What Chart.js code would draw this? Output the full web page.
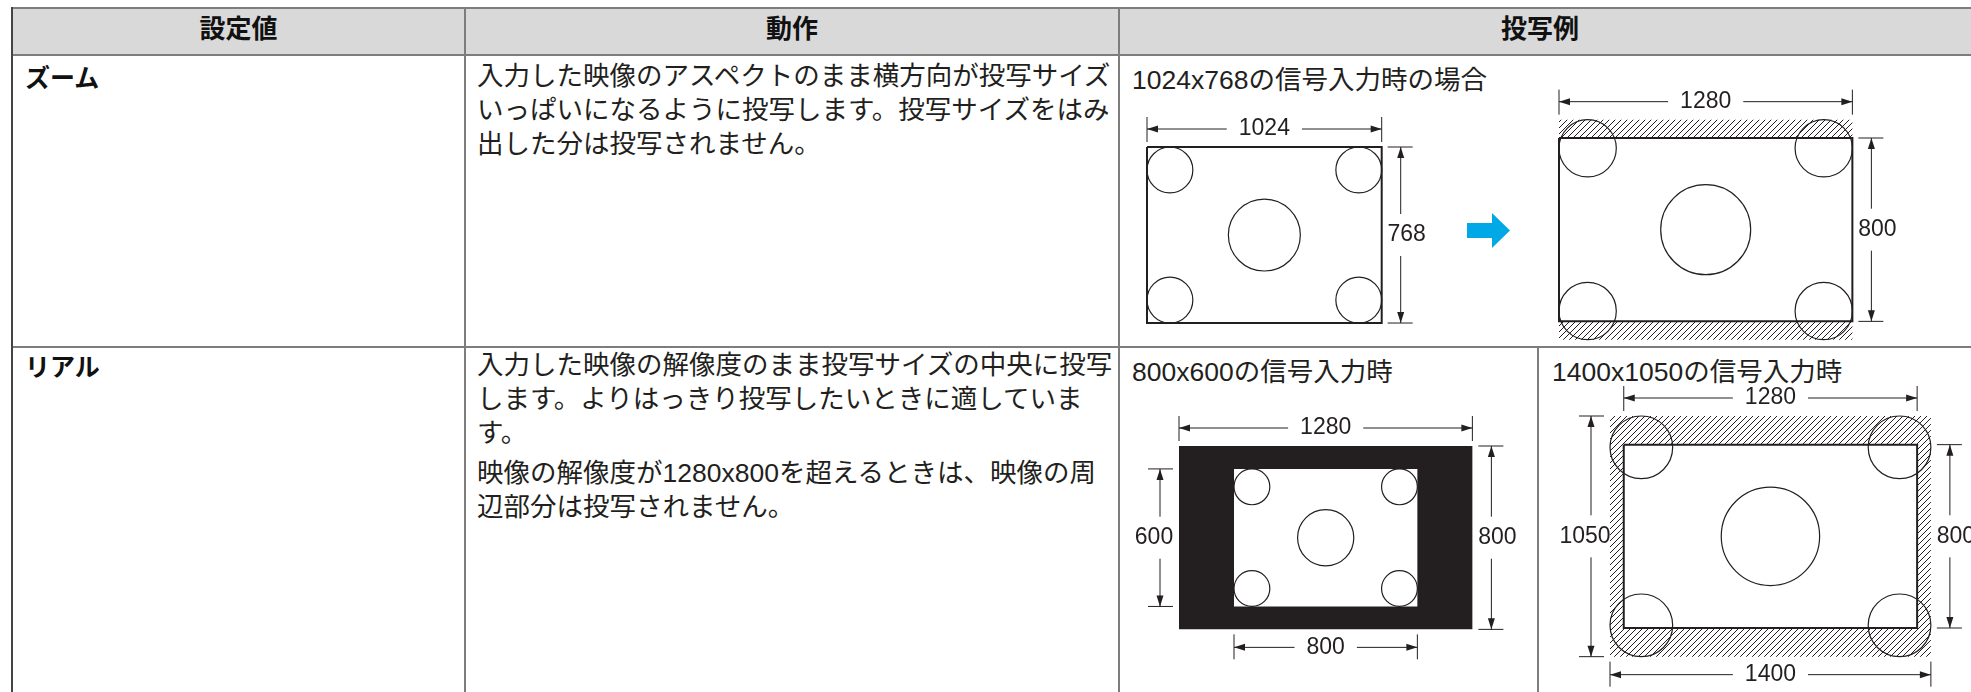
<!DOCTYPE html>
<html lang="ja">
<head>
<meta charset="utf-8">
<script src="https://cdn.jsdelivr.net/npm/chart.js@4.4.1/dist/chart.umd.min.js"></script>
<style>
  body { margin: 0; width: 1971px; height: 692px; overflow: hidden; position: relative; background: #fff;
         font-family: "Liberation Sans", "Noto Sans CJK JP", sans-serif; color: #231f20; }
  .ln { position: absolute; background: #7d7d7d; }
  .hd { position: absolute; top: 8px; height: 47px; line-height: 45px; text-align: center;
        font: 700 26px "Noto Sans CJK JP", sans-serif; color: #111; }
  .key { position: absolute; left: 25px; font: 700 25px "Noto Sans CJK JP", sans-serif; line-height: 34px; color: #111; }
  .txt { position: absolute; left: 477px; font-size: 26.5px; line-height: 34px; white-space: nowrap; }
  .txt p { margin: 0; }
  .txt p + p { margin-top: 6px; }
  .ttl { position: absolute; font-size: 26.5px; line-height: 34px; white-space: nowrap; }
  canvas { position: absolute; }
  #go { position: absolute; left: 1467px; top: 213px; width: 43px; height: 35px; background: #00a8e6;
        clip-path: polygon(0 10px, 25px 10px, 25px 0, 43px 17.5px, 25px 35px, 25px 25px, 0 25px); }
</style>
</head>
<body>
<div class="ln" style="left:12px;top:8px;width:1959px;height:47px;background:#d9d9d9"></div>
<div class="ln" style="left:11px;top:7px;width:1960px;height:2px"></div>
<div class="ln" style="left:11px;top:54px;width:1960px;height:2px"></div>
<div class="ln" style="left:11px;top:346px;width:1960px;height:2px"></div>
<div class="ln" style="left:11px;top:7px;width:1.5px;height:685px;background:#444"></div>
<div class="ln" style="left:464px;top:7px;width:2px;height:685px"></div>
<div class="ln" style="left:1118px;top:7px;width:2px;height:685px"></div>
<div class="ln" style="left:1537px;top:347px;width:2px;height:345px"></div>

<div class="hd" style="left:12px;width:453px">設定値</div>
<div class="hd" style="left:465px;width:654px">動作</div>
<div class="hd" style="left:1119px;width:842px">投写例</div>

<div class="key" style="top:59px">ズーム</div>
<div class="txt" style="top:59px"><p>入力した映像のアスペクトのまま横方向が投写サイズ<br>いっぱいになるように投写します。投写サイズをはみ<br>出した分は投写されません。</p></div>
<div class="ttl" style="left:1132px;top:63px">1024x768の信号入力時の場合</div>

<div class="key" style="top:348px">リアル</div>
<div class="txt" style="top:348px"><p>入力した映像の解像度のまま投写サイズの中央に投写<br>します。よりはっきり投写したいときに適していま<br>す。</p><p>映像の解像度が1280x800を超えるときは、映像の周<br>辺部分は投写されません。</p></div>
<div class="ttl" style="left:1132px;top:355px">800x600の信号入力時</div>
<div class="ttl" style="left:1552px;top:355px">1400x1050の信号入力時</div>

<canvas id="zoomIn"></canvas>
<div id="go"></div>
<canvas id="zoomOut"></canvas>
<canvas id="realSmall"></canvas>
<canvas id="realLarge"></canvas>

<script>
// sizes in signal pixels
const panelSize = [1280, 800];
const zoomInput = [1024, 768];
const realSmall = [800, 600];
const realLarge = [1400, 1050];

// test picture (circles) drawn in a 1024x768 frame
const patternSize = [1024, 768];
const circleX = [100, 924, 512, 100, 924];
const circleY = [100, 100, 384, 668, 668];
const circleR = [100, 100, 157, 100, 100];

const ink = '#231f20';
const PX = 0.2292; // screen px per signal pixel

function hatch() {
  const c = document.createElement('canvas');
  c.width = c.height = 6;
  const g = c.getContext('2d');
  g.strokeStyle = ink;
  g.lineWidth = 1;
  g.beginPath();
  g.moveTo(0, 6); g.lineTo(6, 0);
  g.moveTo(-1, 1); g.lineTo(1, -1);
  g.moveTo(5, 7); g.lineTo(7, 5);
  g.stroke();
  return g.createPattern(c, 'repeat');
}

function rect(x, y, w, h, fillColor, border, order) {
  return {
    data: [{x: x, y: y}, {x: x + w, y: y}, {x: x + w, y: y + h}, {x: x, y: y + h}, {x: x, y: y}],
    showLine: true, fill: 'shape', backgroundColor: fillColor,
    borderColor: border ? ink : 'rgba(0,0,0,0)', borderWidth: border || 1,
    borderJoinStyle: 'miter', pointRadius: 0, order: order
  };
}

// circles of the test picture, scaled to an image of width w placed at (ox, oy)
function circles(w, ox, oy) {
  const k = w / patternSize[0];
  return {
    data: circleX.map((cx, i) => ({x: ox + cx * k, y: oy + circleY[i] * k, r: circleR[i] * k})),
    pointRadius: c => c.raw.r * Math.abs(c.chart.scales.x.getPixelForValue(1000) - c.chart.scales.x.getPixelForValue(0)) / 1000,
    pointBackgroundColor: 'rgba(0,0,0,0)', pointBorderColor: ink, pointBorderWidth: 1.2,
    order: 2
  };
}

function seg(ctx, x1, y1, x2, y2) {
  ctx.beginPath(); ctx.moveTo(x1, y1); ctx.lineTo(x2, y2); ctx.stroke();
}

function arrow(ctx, x, y, dx, dy) {
  const L = 11, W = 3.5;
  ctx.beginPath();
  ctx.moveTo(x, y);
  ctx.lineTo(x - dx * L - dy * W, y - dy * L + dx * W);
  ctx.lineTo(x - dx * L + dy * W, y - dy * L - dx * W);
  ctx.closePath();
  ctx.fill();
}

// dimension lines: {axis, from, to, at, side, label}
function dimsPlugin(list) {
  return {
    id: 'dims',
    afterDatasetsDraw(chart) {
      const ctx = chart.ctx, xs = chart.scales.x, ys = chart.scales.y;
      ctx.save();
      ctx.strokeStyle = ink; ctx.fillStyle = ink; ctx.lineWidth = 1;
      ctx.font = '23px "Liberation Sans", Arial, sans-serif';
      ctx.textAlign = 'center'; ctx.textBaseline = 'middle';
      list.forEach(d => {
        const label = String(d.label);
        if (d.axis === 'x') {
          const a = xs.getPixelForValue(d.from), b = xs.getPixelForValue(d.to);
          const e = ys.getPixelForValue(d.at), y = e + d.side * 18;
          seg(ctx, a, e + d.side * 5, a, e + d.side * 30);
          seg(ctx, b, e + d.side * 5, b, e + d.side * 30);
          const c = (a + b) / 2, g = ctx.measureText(label).width / 2 + 12;
          seg(ctx, a, y, c - g, y);
          seg(ctx, c + g, y, b, y);
          arrow(ctx, a, y, -1, 0);
          arrow(ctx, b, y, 1, 0);
          ctx.fillText(label, c, y);
        } else {
          const a = ys.getPixelForValue(d.from), b = ys.getPixelForValue(d.to);
          const e = xs.getPixelForValue(d.at), x = e + d.side * 19;
          seg(ctx, e + d.side * 6, a, e + d.side * 31, a);
          seg(ctx, e + d.side * 6, b, e + d.side * 31, b);
          const c = (a + b) / 2;
          seg(ctx, x, a, x, c - 21);
          seg(ctx, x, c + 21, x, b);
          arrow(ctx, x, a, 0, -1);
          arrow(ctx, x, b, 0, 1);
          ctx.fillText(label, x + d.side * 6, c);
        }
      });
      ctx.restore();
    }
  };
}

// box: canvas on the page [left, top, width, height]; origin: page position of signal (0,0)
function diagram(id, box, origin, datasets, dims) {
  const cv = document.getElementById(id);
  cv.width = box[2]; cv.height = box[3];
  cv.style.left = box[0] + 'px'; cv.style.top = box[1] + 'px';
  return new Chart(cv, {
    type: 'scatter',
    data: {datasets: datasets},
    options: {
      responsive: false, animation: false, events: [],
      layout: {padding: 0},
      plugins: {legend: {display: false}, tooltip: {enabled: false}},
      scales: {
        x: {type: 'linear', display: false, bounds: 'data',
            min: (box[0] - origin[0]) / PX, max: (box[0] + box[2] - origin[0]) / PX},
        y: {type: 'linear', display: false, bounds: 'data', reverse: true,
            min: (box[1] - origin[1]) / PX, max: (box[1] + box[3] - origin[1]) / PX}
      }
    },
    plugins: [dimsPlugin(dims)]
  });
}

const hatchFill = hatch();

// ズーム: 1024x768 in
diagram('zoomIn', [1122, 95, 320, 250], [1147, 147], [
  rect(0, 0, zoomInput[0], zoomInput[1], '#fff', 2, 3),
  circles(zoomInput[0], 0, 0)
], [
  {axis: 'x', from: 0, to: zoomInput[0], at: 0, side: -1, label: zoomInput[0]},
  {axis: 'y', from: 0, to: zoomInput[1], at: zoomInput[0], side: 1, label: zoomInput[1]}
]);

// ズーム: scaled to the panel width, top and bottom cut off
const zk = panelSize[0] / zoomInput[0];
const zH = zoomInput[1] * zk, zTop = (panelSize[1] - zH) / 2;
diagram('zoomOut', [1535, 80, 436, 265], [1559, 138], [
  rect(0, zTop, panelSize[0], zH, hatchFill, 0, 5),
  rect(0, 0, panelSize[0], panelSize[1], '#fff', 2, 3),
  circles(panelSize[0], 0, zTop)
], [
  {axis: 'x', from: 0, to: panelSize[0], at: zTop, side: -1, label: panelSize[0]},
  {axis: 'y', from: 0, to: panelSize[1], at: panelSize[0], side: 1, label: panelSize[1]}
]);

// リアル: 800x600 centred in the panel
const sx = (panelSize[0] - realSmall[0]) / 2, sy = (panelSize[1] - realSmall[1]) / 2;
diagram('realSmall', [1125, 395, 410, 297], [1179, 446], [
  rect(0, 0, panelSize[0], panelSize[1], ink, 0, 5),
  rect(sx, sy, realSmall[0], realSmall[1], '#fff', 0, 3),
  circles(realSmall[0], sx, sy)
], [
  {axis: 'x', from: 0, to: panelSize[0], at: 0, side: -1, label: panelSize[0]},
  {axis: 'y', from: 0, to: panelSize[1], at: panelSize[0], side: 1, label: panelSize[1]},
  {axis: 'y', from: sy, to: sy + realSmall[1], at: 0, side: -1, label: realSmall[1]},
  {axis: 'x', from: sx, to: sx + realSmall[0], at: panelSize[1], side: 1, label: realSmall[0]}
]);

// リアル: 1400x1050, edges outside the panel are cut off
const lx = (realLarge[0] - panelSize[0]) / 2, ly = (realLarge[1] - panelSize[1]) / 2;
diagram('realLarge', [1545, 378, 426, 314], [1610, 416], [
  rect(0, 0, realLarge[0], realLarge[1], hatchFill, 0, 5),
  rect(lx, ly, panelSize[0], panelSize[1], '#fff', 2, 3),
  circles(realLarge[0], 0, 0)
], [
  {axis: 'x', from: lx, to: lx + panelSize[0], at: 0, side: -1, label: panelSize[0]},
  {axis: 'x', from: 0, to: realLarge[0], at: realLarge[1], side: 1, label: realLarge[0]},
  {axis: 'y', from: 0, to: realLarge[1], at: 0, side: -1, label: realLarge[1]},
  {axis: 'y', from: ly, to: ly + panelSize[1], at: realLarge[0], side: 1, label: panelSize[1]}
]);
</script>
</body>
</html>
